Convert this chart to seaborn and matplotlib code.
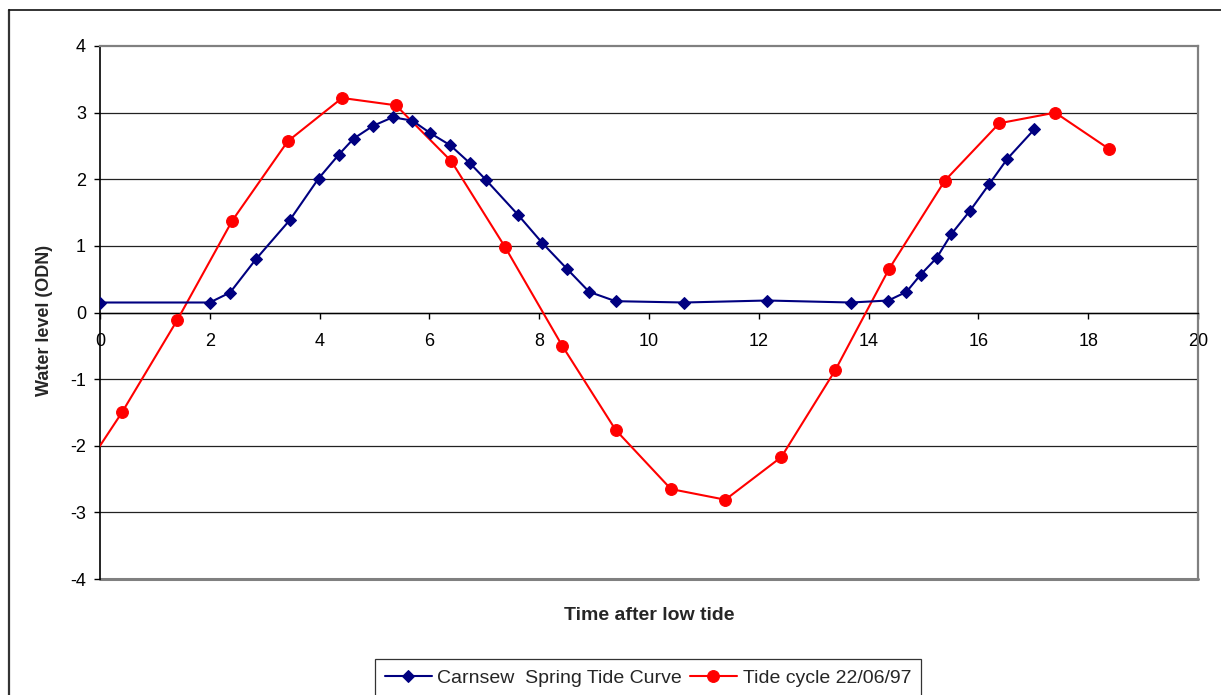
import matplotlib
matplotlib.use("Agg")
import matplotlib.pyplot as plt
from matplotlib.lines import Line2D
import pandas as pd
import seaborn as sns

# Carnsew spring tide curve (hours after low tide, water level m ODN)
spring_hours = [0.0, 2.0, 2.37, 2.84, 3.46, 3.98, 4.35, 4.62, 4.97, 5.33, 5.69,
                6.02, 6.38, 6.74, 7.03, 7.61, 8.06, 8.50, 8.91, 9.39, 10.64,
                12.15, 13.68, 14.36, 14.69, 14.95, 15.24, 15.51, 15.85, 16.20,
                16.53, 17.02]
spring_level = [0.15, 0.15, 0.30, 0.80, 1.39, 2.01, 2.37, 2.61, 2.80, 2.93, 2.88,
                2.69, 2.51, 2.24, 1.99, 1.47, 1.04, 0.66, 0.31, 0.17, 0.15,
                0.18, 0.15, 0.18, 0.31, 0.57, 0.82, 1.18, 1.53, 1.93,
                2.31, 2.75]

# Observed tide cycle on 22/06/97 (first reading falls before the axis start)
cycle_hours = [-0.60, 0.40, 1.41, 2.41, 3.42, 4.41, 5.39, 6.40, 7.38, 8.42, 9.39,
               10.40, 11.39, 12.41, 13.39, 14.37, 15.39, 16.38, 17.40, 18.37]
cycle_level = [-2.75, -1.50, -0.11, 1.38, 2.57, 3.22, 3.11, 2.27, 0.98, -0.50,
               -1.76, -2.65, -2.81, -2.17, -0.87, 0.65, 1.98, 2.84, 3.00, 2.46]

series_names = ["Carnsew  Spring Tide Curve", "Tide cycle 22/06/97"]
x_ticks = list(range(0, 21, 2))
y_ticks = list(range(-4, 5))

sns.set_style("white")
plt.rcParams["font.family"] = ["Liberation Sans", "DejaVu Sans"]
plt.rcParams["axes.unicode_minus"] = False

W, H = 1221, 695
fig = plt.figure(figsize=(W / 100, H / 100), dpi=100)
ax = fig.add_axes([100 / W, 1 - 579 / H, 1098 / W, 533 / H])

spring = pd.DataFrame({"hours": spring_hours, "level": spring_level})
cycle = pd.DataFrame({"hours": cycle_hours, "level": cycle_level})

sns.lineplot(data=spring, x="hours", y="level", sort=False, ax=ax,
             color="#000080", linewidth=1.5, marker="D", markersize=6.5,
             markeredgecolor="#000080", label=series_names[0], zorder=4)
sns.lineplot(data=cycle, x="hours", y="level", sort=False, ax=ax,
             color="#ff0000", linewidth=1.5, marker="o", markersize=8.5,
             markeredgecolor="#ff0000", label=series_names[1], zorder=3)

ax.set_xlim(0, 20)
ax.set_ylim(-4, 4)
ax.set_xticks(x_ticks)
ax.set_yticks(y_ticks)
ax.set_xticklabels([str(v) for v in x_ticks])
ax.set_yticklabels([str(v) for v in y_ticks])
ax.set_xlabel("")
ax.set_ylabel("")

# horizontal gridlines at each whole metre
for v in y_ticks[1:-1]:
    ax.axhline(v, color="#222222", linewidth=0.9, zorder=1)

# x axis runs through zero, grey frame around the plot area
for side in ("top", "right"):
    ax.spines[side].set_color("#808080")
    ax.spines[side].set_linewidth(1.6)
ax.spines["bottom"].set_position(("data", 0))
ax.spines["bottom"].set_color("#000000")
ax.spines["bottom"].set_linewidth(1.0)
ax.spines["left"].set_color("#000000")
ax.spines["left"].set_linewidth(1.2)
ax.plot([0, 1], [0, 0], transform=ax.transAxes, color="#808080",
        linewidth=2.2, clip_on=False, zorder=0.5)

ax.tick_params(axis="x", direction="out", length=4, width=1, pad=11,
               labelsize=13, colors="#000000", bottom=True)
ax.tick_params(axis="y", direction="out", length=4, width=1, pad=6,
               labelsize=13, colors="#000000", left=True)

fig.text(45 / W, 1 - 320 / H, "Water level (ODN)", rotation=90, ha="center",
         va="center", fontsize=13, fontweight="bold")
fig.text(649 / W, 1 - 615 / H, "Time after low tide", ha="center",
         va="center", fontsize=14, fontweight="bold")

ax.get_legend().remove()
handles, labels = ax.get_legend_handles_labels()
leg = fig.legend(handles, labels, loc="center", ncol=2,
                 bbox_to_anchor=(648 / W, 1 - 678 / H), fontsize=14,
                 frameon=True, fancybox=False, handlelength=2.4,
                 handletextpad=0.3, columnspacing=0.4, borderpad=0.5)
leg.get_frame().set_edgecolor("#000000")
leg.get_frame().set_linewidth(0.9)

# outer border of the figure panel
fig.add_artist(Line2D([8.5 / W, 8.5 / W], [0, 1 - 10 / H], color="#333333",
                      linewidth=1.6))
fig.add_artist(Line2D([8.5 / W, 1], [1 - 10 / H, 1 - 10 / H], color="#111111",
                      linewidth=1.2))

fig.savefig("out.png", dpi=100)
